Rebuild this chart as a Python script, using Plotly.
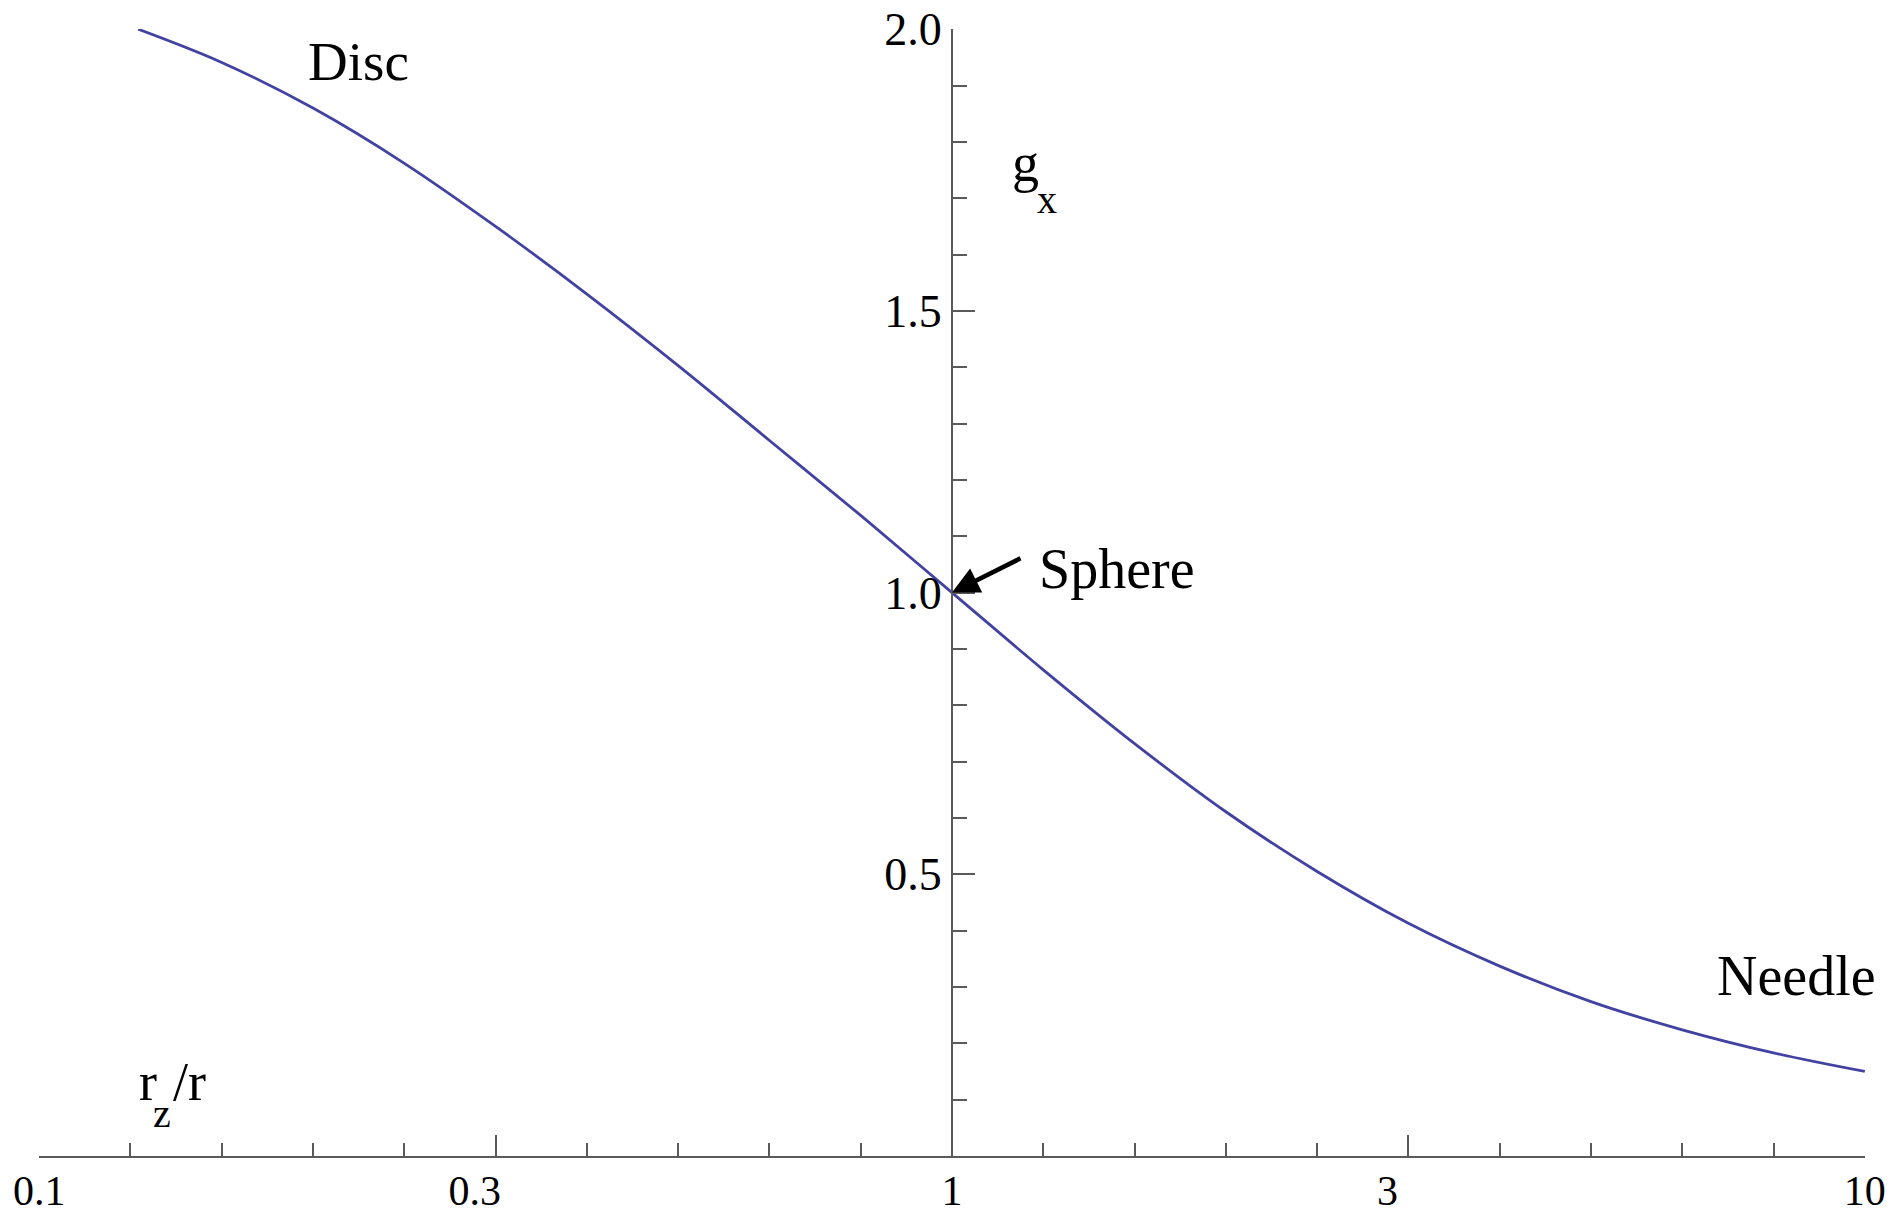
# -*- coding: utf-8 -*-
"""
g_x versus r_z/r, from disc to needle
"""

import plotly.graph_objects as go

# %% Data

ratio = [0.1284, 0.1585, 0.1995, 0.2512, 0.3162, 0.3981, 0.5012, 0.6310,
         0.7943, 1.0, 1.2589, 1.5849, 1.9953, 2.5119, 3.1623, 3.9811,
         5.0119, 6.3096, 7.9433, 10.0]
g_x = [2.0, 1.941, 1.860, 1.762, 1.650, 1.530, 1.403, 1.270,
       1.137, 1.0, 0.863, 0.732, 0.611, 0.505, 0.413, 0.337,
       0.274, 0.224, 0.183, 0.150]

# ticks sit on half decades, the labels on 0.1, 0.3, 1, 3, 10
xtick_vals = [0.1, 10 ** -0.5, 1, 10 ** 0.5, 10]
xlabel_vals = [0.1, 0.3, 1, 3, 10]
xlabel_text = ['0.1', '0.3', '1', '3', '10']
xminor_vals = [10 ** (k / 10) for k in range(-10, 11) if k % 5]
ytick_vals = [0.5, 1.0, 1.5, 2.0]
ytick_text = ['0.5', '1.0', '1.5', '2.0']

# %% Figure

serif = 'Liberation Serif'
axcol = '#5a5a5a'
xrng = [-1.0002, 1.0002]

fig = go.Figure()
fig.add_trace(go.Scatter(x=ratio, y=g_x, mode='lines', line_shape='spline',
                         line=dict(color='#4242a2', width=2.8),
                         hoverinfo='skip', showlegend=False))
# empty trace so that the label axis gets drawn
fig.add_trace(go.Scatter(x=[], y=[], xaxis='x2', showlegend=False,
                         hoverinfo='skip'))

# page body has an 8px margin, so the figure is shifted by 8px
fig.update_layout(
    width=1885, height=1209,
    margin={'l': 31, 'r': 28, 't': 21, 'b': 61},
    paper_bgcolor='white', plot_bgcolor='white',
    font=dict(family=serif, color='black'),
    xaxis=dict(type='log', range=xrng, showgrid=False, zeroline=False,
               automargin=False, showline=True, linecolor=axcol, linewidth=2,
               ticks='inside', ticklen=21, tickwidth=1.5, tickcolor=axcol,
               tickmode='array', tickvals=xtick_vals, showticklabels=False,
               minor=dict(tickmode='array', tickvals=xminor_vals, ticks='inside',
                          ticklen=13, tickwidth=1.5, tickcolor=axcol)),
    xaxis2=dict(type='log', range=xrng, overlaying='x', anchor='y',
                side='bottom', showgrid=False, zeroline=False, showline=False,
                automargin=False, ticks='', tickmode='array',
                tickvals=xlabel_vals, ticktext=xlabel_text,
                ticklabeloverflow='allow', ticklabelstandoff=6,
                tickfont=dict(family=serif, size=42, color='black')),
    yaxis=dict(range=[0, 2.0004], anchor='free', position=0.5, showgrid=False,
               zeroline=False, automargin=False, showline=True,
               linecolor=axcol, linewidth=2, ticklabeloverflow='allow',
               ticks='inside', ticklen=22, tickwidth=1.5, tickcolor=axcol,
               tickmode='array', tickvals=ytick_vals, ticktext=ytick_text,
               tickfont=dict(family=serif, size=46, color='black'),
               minor=dict(dtick=0.1, tick0=0, ticks='inside', ticklen=14,
                          tickwidth=1.5, tickcolor=axcol)),
)

labels = [
    ('Disc', 0.1462, 0.9712, 55),
    ('Sphere', 0.5466, 0.5208, 56),
    ('Needle', 0.9179, 0.1593, 56),
    ('g', 0.5318, 0.8811, 54),
    ('x', 0.5455, 0.8483, 40),
    ('r', 0.0537, 0.0657, 54),
    ('z', 0.0613, 0.0380, 40),
    ('/r', 0.0722, 0.0657, 54),
]
for txt, px, py, size in labels:
    fig.add_annotation(text=txt, x=px, y=py, xref='paper', yref='paper',
                       xanchor='left', yanchor='middle', showarrow=False,
                       font=dict(family=serif, size=size, color='black'))

# arrow pointing at the sphere case
fig.add_annotation(text='', x=0, y=1, xref='x', yref='y', ax=70, ay=-35,
                   showarrow=True, arrowhead=2, arrowsize=1.2, arrowwidth=4.5,
                   arrowcolor='black', standoff=0)

fig.write_html("out.html")
